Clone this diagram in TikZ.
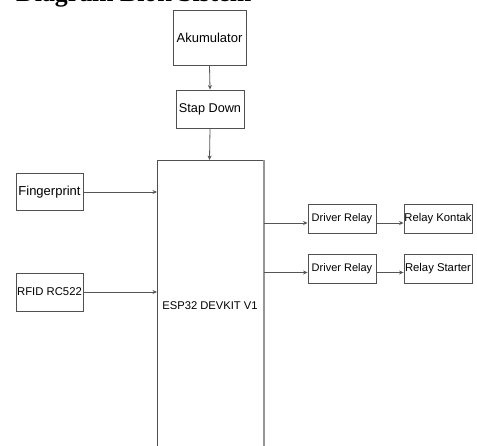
\documentclass[tikz,border=0pt]{standalone}
\usepackage{fontspec}
\setmainfont{Liberation Sans}
\newfontfamily\titlefont{Liberation Serif}
\usetikzlibrary{arrows.meta}
\definecolor{boxline}{HTML}{505050}
\definecolor{arrowline}{HTML}{555555}
\tikzset{
  blk/.style={draw=boxline, line width=0.9pt, fill=white, inner sep=0pt, align=center},
  conn/.style={draw=arrowline, line width=0.8pt, -{Stealth[length=4.5pt,width=4pt]}},
}
\begin{document}
\begin{tikzpicture}[x=1pt,y=-1pt]
\useasboundingbox (0,0) rectangle (477,445);
\clip (0,0) rectangle (477,445);
\fill[white] (0,0) rectangle (477,445);
% title (cut off at top, as in the reference)
\node[anchor=base west, inner sep=0pt, font=\titlefont\bfseries\fontsize{25.8}{28}\selectfont] (title) at (16,1.5) {Diagram Blok Sistem};
% boxes
\node[blk, minimum width=73pt, minimum height=55pt, font=\fontsize{13}{15}\selectfont] (aku) at (209.5,37.5) {Akumulator};
\node[blk, minimum width=68pt, minimum height=38pt, font=\fontsize{12.7}{15}\selectfont] (stap) at (210,109) {Stap Down};
\node[blk, minimum width=67pt, minimum height=37pt, font=\fontsize{13}{15}\selectfont] (fing) at (49.5,192) {Fingerprint};
\node[blk, minimum width=67pt, minimum height=38pt, font=\fontsize{11.3}{14}\selectfont] (rfid) at (49.5,292) {RFID RC522};
% ESP32 box, open past bottom
\coordinate (espTL) at (157,160);
\coordinate (espTR) at (264,160);
\draw[draw=boxline, line width=0.9pt] (157,460) -- (espTL) -- (espTR);
\draw[draw=boxline!60, line width=1.1pt] (espTR) -- (264,460);
\node[font=\fontsize{11.2}{14}\selectfont, inner sep=0pt] (esp) at (210,306) {ESP32 DEVKIT V1};
\coordinate (espTop) at (209.5,160);
\coordinate (espIn1) at (157,192);
\coordinate (espIn2) at (157,292);
\coordinate (espOut1) at (264,223);
\coordinate (espOut2) at (264,272.5);
\node[blk, minimum width=68pt, minimum height=29pt, font=\fontsize{11}{13}\selectfont] (dr1) at (342,218.5) {Driver Relay};
\node[blk, minimum width=68pt, minimum height=29pt, font=\fontsize{11}{13}\selectfont] (dr2) at (342,268.5) {Driver Relay};
\node[blk, minimum width=68pt, minimum height=29pt, font=\fontsize{11.3}{13}\selectfont] (rk) at (438,218.5) {Relay Kontak};
\node[blk, minimum width=68pt, minimum height=29pt, font=\fontsize{11.3}{13}\selectfont] (rs) at (438,268.5) {Relay Starter};
% connectors
\draw[conn] (aku.south) -- (stap.north);
\draw[conn] (stap.south) -- (espTop);
\draw[conn] (fing.east) -- (espIn1);
\draw[conn] (rfid.east) -- (espIn2);
\draw[conn] (espOut1) -- (dr1.west |- espOut1);
\draw[conn] (espOut2) -- (dr2.west |- espOut2);
\draw[conn] (dr1.east |- espOut1) -- (rk.west |- espOut1);
\draw[conn] (dr2.east |- espOut2) -- (rs.west |- espOut2);
\end{tikzpicture}
\end{document}
